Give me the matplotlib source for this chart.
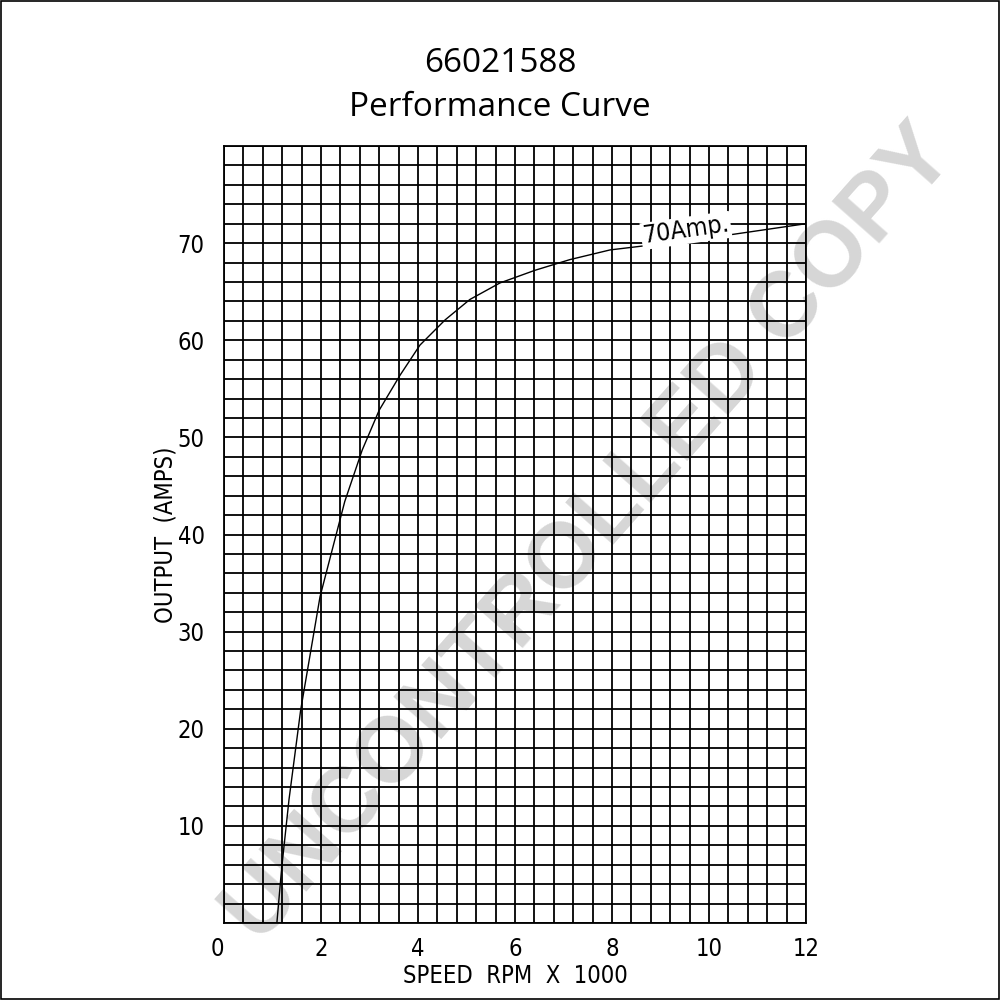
import numpy as np
import matplotlib
matplotlib.use("Agg")
from matplotlib import pyplot as plt
from matplotlib.patches import Rectangle

# curve (speed in 1000 rpm, output in amps)
speed = [1.09, 1.19, 1.34, 1.58, 1.98, 2.49, 2.85, 3.2, 3.63, 4.04, 4.56,
         5.07, 5.69, 6.41, 7.13, 7.96, 9.13, 10.08, 12.0]
amps = [0, 5.7, 12.7, 21.9, 33.6, 43.4, 48.7, 52.8, 56.4, 59.5, 62.1,
        64.2, 65.9, 67.2, 68.3, 69.3, 70.0, 70.6, 72.0]

x_ticks = [0, 2, 4, 6, 8, 10, 12]
y_ticks = [10, 20, 30, 40, 50, 60, 70]

label_font = "DejaVu Sans"

fig = plt.figure(figsize=(10, 10), dpi=100)
ax = fig.add_axes([0.224, 0.077, 0.582, 0.777])
ax.set_facecolor("none")

#grid paper
ax.set_xlim(0, 12)
ax.set_ylim(0, 80)
ax.set_xticks(np.arange(0, 12.01, 0.4), minor=True)
ax.set_yticks(np.arange(0, 80.01, 2), minor=True)
ax.set_xticks(x_ticks)
ax.set_yticks(y_ticks)
ax.grid(which="both", color="black", lw=1.3, zorder=2)
ax.tick_params(which="both", length=0)
ax.tick_params(axis="x", pad=10)
ax.tick_params(axis="y", pad=14)
for s in ax.spines.values():
    s.set_linewidth(1.3)
    s.set_zorder(3)
ax.set_axisbelow(False)

for lab in ax.get_xticklabels() + ax.get_yticklabels():
    lab.set_fontfamily(label_font)
    lab.set_fontstretch("condensed")
    lab.set_fontsize(17)
ax.get_xticklabels()[0].set_horizontalalignment("right")

ax.plot(speed, amps, color="black", lw=1.0, zorder=4)
ax.text(8.6, 71.3, "70Amp.", rotation=8, fontsize=18, family=label_font,
        fontstretch="condensed", ha="left", va="center", zorder=5,
        bbox=dict(facecolor="white", edgecolor="none", pad=1))

ax.set_xlabel("SPEED  RPM  X  1000", fontsize=17, family=label_font,
              fontstretch="condensed", labelpad=2)
ax.set_ylabel("OUTPUT  (AMPS)", fontsize=17, family=label_font,
              fontstretch="condensed", labelpad=0)

fig.text(0.5, 0.937, "66021588", ha="center", va="center", fontsize=24,
         family="Open Sans")
fig.text(0.5, 0.893, "Performance Curve", ha="center", va="center",
         fontsize=24, family="Open Sans")

#watermark behind the grid
ax.text(0.59, 0.465, "UNCONTROLLED COPY", transform=fig.transFigure,
        rotation=48.5, ha="center", va="center", fontsize=66,
        fontweight="bold", family="Liberation Sans", color="#d6d6d6",
        zorder=1, rotation_mode="anchor")

fig.patches.append(Rectangle((0.001, 0.001), 0.998, 0.998, fill=False,
                             lw=1.2, edgecolor="black",
                             transform=fig.transFigure, figure=fig))

fig.savefig("out.png", dpi=100, facecolor="white")
